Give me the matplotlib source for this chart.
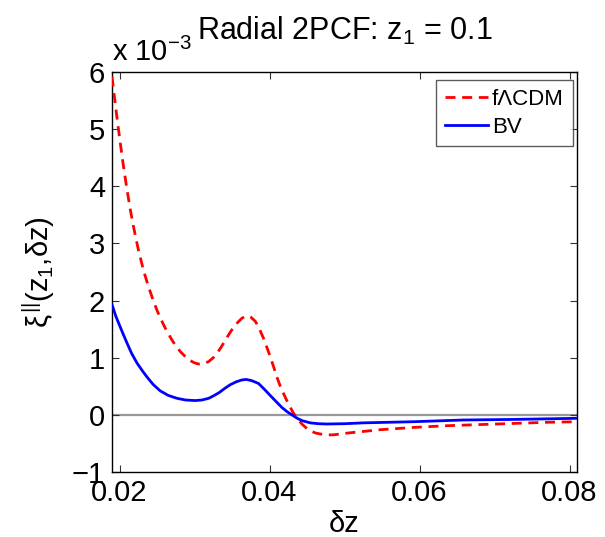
import matplotlib
matplotlib.use("Agg")
import matplotlib.pyplot as plt

plt.rcParams['font.family'] = ['Liberation Sans', 'DejaVu Sans']
plt.rcParams['mathtext.fontset'] = 'custom'
plt.rcParams['mathtext.rm'] = 'Liberation Sans'
plt.rcParams['mathtext.it'] = 'Liberation Sans'
plt.rcParams['mathtext.bf'] = 'Liberation Sans:bold'

# values, y in units of 1e-3
dz_flcdm = [0.0190, 0.01943, 0.01973, 0.02009, 0.02053, 0.02099, 0.02143, 0.02187,
            0.02253, 0.02320, 0.02387, 0.02453, 0.02500, 0.02543, 0.02609, 0.02699,
            0.02750, 0.02809, 0.02900, 0.02943, 0.03000, 0.03053, 0.03100, 0.03187,
            0.03250, 0.03300, 0.03343, 0.03400, 0.03450, 0.03499, 0.03550, 0.03600,
            0.03632, 0.03670, 0.03707, 0.03750, 0.03809, 0.03850, 0.03880, 0.03920,
            0.03960, 0.04009, 0.04050, 0.04099, 0.04150, 0.04209, 0.04260, 0.04320,
            0.04380, 0.04432, 0.04499, 0.04560, 0.04620, 0.04700, 0.04765, 0.04850,
            0.05032, 0.05250, 0.05476, 0.05920, 0.06365, 0.06809, 0.07253, 0.07699,
            0.08116]
xi_flcdm = [5.92, 5.45, 5.13, 4.77, 4.35, 3.95, 3.60, 3.29,
            2.88, 2.53, 2.24, 1.99, 1.83, 1.70, 1.52, 1.31,
            1.21, 1.11, 0.99, 0.95, 0.91, 0.89, 0.89, 0.93,
            1.00, 1.08, 1.16, 1.28, 1.39, 1.49, 1.58, 1.65,
            1.69, 1.72, 1.73, 1.71, 1.64, 1.55, 1.46, 1.34,
            1.20, 1.02, 0.86, 0.66, 0.48, 0.31, 0.17, 0.03,
            -0.08, -0.16, -0.24, -0.29, -0.32, -0.34, -0.35, -0.35,
            -0.32, -0.29, -0.26, -0.22, -0.19, -0.17, -0.15, -0.13,
            -0.12]

dz_bv = [0.0190, 0.01950, 0.02009, 0.02050, 0.02099, 0.02160, 0.02232, 0.02300,
         0.02365, 0.02450, 0.02543, 0.02650, 0.02765, 0.02880, 0.03009, 0.03100,
         0.03190, 0.03250, 0.03330, 0.03400, 0.03480, 0.03560, 0.03630, 0.03689,
         0.03760, 0.03853, 0.03930, 0.04009, 0.04090, 0.04165, 0.04230, 0.04299,
         0.04370, 0.04432, 0.04543, 0.04650, 0.04765, 0.05000, 0.05253, 0.05920,
         0.06587, 0.07253, 0.08116]
xi_bv = [1.93, 1.73, 1.54, 1.41, 1.26, 1.08, 0.91, 0.78,
         0.665, 0.53, 0.42, 0.34, 0.29, 0.26, 0.25, 0.26,
         0.29, 0.33, 0.39, 0.46, 0.53, 0.58, 0.61, 0.62,
         0.60, 0.55, 0.45, 0.34, 0.23, 0.13, 0.06, 0.0,
         -0.06, -0.10, -0.14, -0.155, -0.16, -0.155, -0.14, -0.12,
         -0.09, -0.08, -0.06]

xticks = [0.02, 0.04, 0.06, 0.08]
yticks = [-1, 0, 1, 2, 3, 4, 5, 6]

fig = plt.figure(figsize=(6.05, 5.37), dpi=100)
ax = fig.add_axes([112 / 605, 1 - 472 / 537, 465 / 605, 400 / 537])

ax.axhline(0, color='#999999', lw=1.6, zorder=1)
ax.plot(dz_flcdm, xi_flcdm, color='red', ls=(0, (3.6, 2.4)), lw=2, label='fΛCDM', zorder=3)
ax.plot(dz_bv, xi_bv, color='blue', lw=2, label='BV', zorder=3)

ax.set_xlim(0.019, 0.081)
ax.set_ylim(-1, 6)
ax.set_xticks(xticks)
ax.set_xticklabels(['0.02', '0.04', '0.06', '0.08'])
ax.set_yticks(yticks)
ax.set_yticklabels(['\u22121' if t < 0 else str(t) for t in yticks])
ax.tick_params(direction='in', length=5, width=0.8, top=True, right=True,
               labelsize=21, pad=5, color='#333333')
for s in ax.spines.values():
    s.set_linewidth(1.0)

ax.set_xlabel('δz', fontsize=21, labelpad=2)
ax.set_ylabel(r'$\xi^{||}(z_1{,}\delta z)$', fontsize=21, labelpad=11)

ax.text(0.0, 1.012, r'x 10$^{-3}$', transform=ax.transAxes, fontsize=21,
        ha='left', va='bottom')
fig.text(344.5 / 605, 1 - 40 / 537, r'Radial 2PCF: z$_1$ = 0.1', fontsize=22,
         ha='center', va='baseline')

leg = ax.legend(loc='upper right', fontsize=16, frameon=True, fancybox=False,
                edgecolor='#333333', handlelength=1.9, handletextpad=0.2,
                borderpad=0.4, labelspacing=0.3, borderaxespad=0,
                bbox_to_anchor=(0.991, 0.98))
leg.get_frame().set_linewidth(1.0)

fig.savefig('out.png', dpi=100)
